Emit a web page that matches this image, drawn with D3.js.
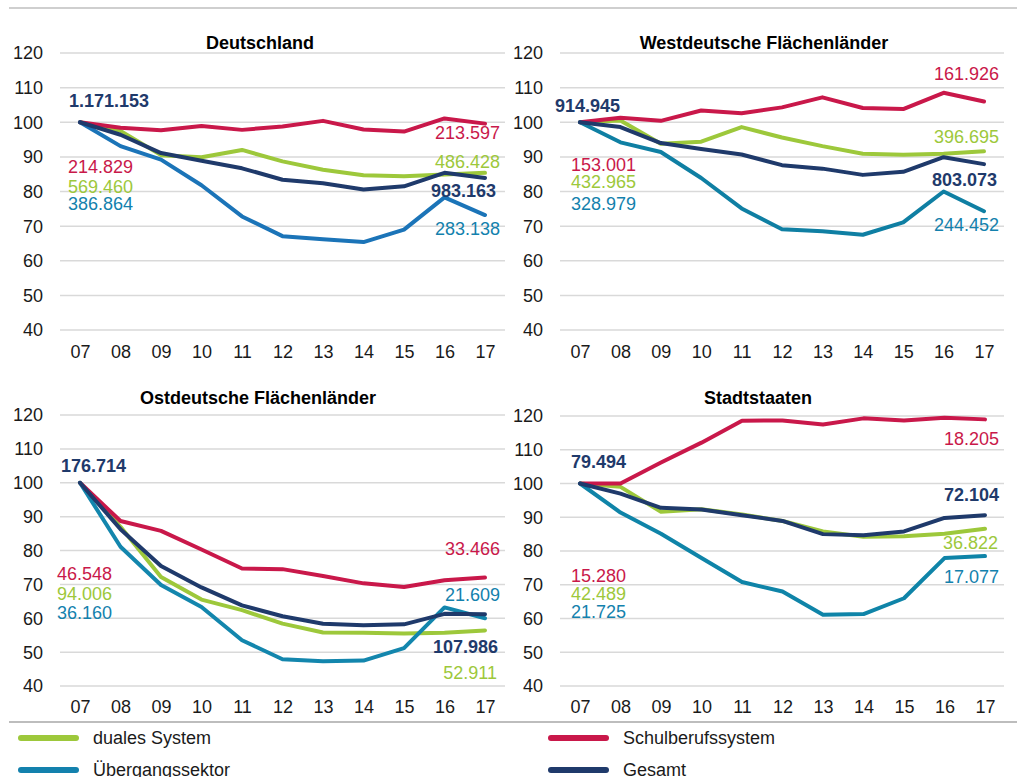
<!DOCTYPE html>
<html><head><meta charset="utf-8">
<script src="https://cdn.jsdelivr.net/npm/d3@7"></script>
<style>
html,body{margin:0;padding:0;background:#fff;}
text{font-family:Arial,"Liberation Sans",sans-serif;}
</style></head>
<body><svg id="c" width="1017" height="777"></svg>
<script>
// ---------- data ----------
const years = ["07","08","09","10","11","12","13","14","15","16","17"];
const seriesNames = ["duales System","Schulberufssystem","Übergangssektor","Gesamt"];
const yTicks = [40,50,60,70,80,90,100,110,120];
const panelTitles = ["Deutschland","Westdeutsche Flächenländer","Ostdeutsche Flächenländer","Stadtstaaten"];

// Deutschland
const deDual   = [100,97.5,90.5,89.9,92.0,88.7,86.3,84.7,84.4,84.9,85.4];
const deSchul  = [100,98.4,97.7,98.9,97.8,98.8,100.4,97.9,97.3,101.1,99.6];
const deUeber  = [100,93.1,89.2,81.8,72.8,67.1,66.2,65.4,69.0,78.3,73.2];
const deGesamt = [100,96.4,91.1,88.9,86.7,83.4,82.4,80.6,81.5,85.4,83.9];
const deStart  = ["569.460","214.829","386.864","1.171.153"];
const deEnd    = ["486.428","213.597","283.138","983.163"];

// Westdeutsche Flächenländer
const wDual   = [100,100.5,93.8,94.4,98.6,95.6,93.1,90.9,90.6,90.9,91.6];
const wSchul  = [100,101.3,100.4,103.4,102.6,104.3,107.2,104.1,103.8,108.5,106.0];
const wUeber  = [100,94.2,91.4,83.9,75.1,69.1,68.5,67.5,71.1,80.0,74.3];
const wGesamt = [100,98.6,94.0,92.3,90.7,87.6,86.6,84.8,85.7,89.9,87.9];
const wStart  = ["432.965","153.001","328.979","914.945"];
const wEnd    = ["396.695","161.926","244.452","803.073"];

// Ostdeutsche Flächenländer
const oDual   = [100,87.0,72.2,65.5,62.4,58.4,55.8,55.7,55.5,55.7,56.4];
const oSchul  = [100,88.7,85.8,80.3,74.7,74.5,72.5,70.3,69.2,71.2,72.0];
const oUeber  = [100,81.1,69.8,63.3,53.5,47.9,47.3,47.5,51.2,63.2,60.0];
const oGesamt = [100,86.3,75.4,69.1,63.8,60.6,58.4,57.9,58.2,61.3,61.2];
const oStart  = ["94.006","46.548","36.160","176.714"];
const oEnd    = ["52.911","33.466","21.609","107.986"];

// Stadtstaaten
const sDual   = [100,99.0,91.6,92.4,90.8,88.9,85.8,84.2,84.4,85.1,86.6];
const sSchul  = [100,100,106.2,112.1,118.6,118.7,117.5,119.3,118.7,119.5,119.0];
const sUeber  = [100,91.4,85.1,77.9,70.8,68.0,61.1,61.3,66.0,77.9,78.5];
const sGesamt = [100,97.0,92.8,92.3,90.6,88.9,85.0,84.7,85.8,89.8,90.6];
const sStart  = ["42.489","15.280","21.725","79.494"];
const sEnd    = ["36.822","18.205","17.077","72.104"];

// ---------- styles / layout ----------
const colors = ["#9dc83b","#c9184a","#1381ad","#1f3a6b"];
const fs = 18;

const panels = [
  {title:panelTitles[0], series:[deDual,deSchul,deUeber,deGesamt], start:deStart, end:deEnd,
   gx0:60, gx1:505, x0:80, x1:485, y0:330, y1:53, tickX:43, titleX:260, titleY:49, xLabY:358,
   blue:"#1b74b8",
   // label positions [x, y, anchor] for each series, start and end
   startPos:[[68,193],[68,173],[68,210],[69,107]],
   endPos:[[500,168],[500,139],[500,235],[496,197]]},
  {title:panelTitles[1], series:[wDual,wSchul,wUeber,wGesamt], start:wStart, end:wEnd,
   gx0:560, gx1:1004, x0:580, x1:984, y0:330, y1:53, tickX:543, titleX:764, titleY:49, xLabY:358,
   blue:"#0f7fa3",
   startPos:[[571,188],[571,171],[571,210],[555,112]],
   endPos:[[999,143],[999,80],[999,231],[997,186]]},
  {title:panelTitles[2], series:[oDual,oSchul,oUeber,oGesamt], start:oStart, end:oEnd,
   gx0:60, gx1:505, x0:80, x1:485, y0:686, y1:415, tickX:43, titleX:258, titleY:404, xLabY:713,
   blue:"#1386ad",
   startPos:[[57,600],[57,580],[57,619],[61,472]],
   endPos:[[497,679],[500,555],[500,601],[498,653]]},
  {title:panelTitles[3], series:[sDual,sSchul,sUeber,sGesamt], start:sStart, end:sEnd,
   gx0:560, gx1:1004, x0:580, x1:985, y0:686, y1:416, tickX:543, titleX:758, titleY:404, xLabY:713,
   blue:"#0f84a8",
   startPos:[[571,600],[571,582],[571,618],[571,468]],
   endPos:[[998,549],[999,445],[999,583],[999,501]]}
];

const svg = d3.select("#c");

// separators
svg.append("line").attr("x1",9).attr("x2",1017).attr("y1",8).attr("y2",8)
  .attr("stroke","#cfcfcf").attr("stroke-width",2);
svg.append("line").attr("x1",9).attr("x2",1017).attr("y1",722).attr("y2",722)
  .attr("stroke","#bdbdbd").attr("stroke-width",2);

panels.forEach(p => {
  const g = svg.append("g");
  const x = d3.scalePoint().domain(years).range([p.x0,p.x1]);
  const y = d3.scaleLinear().domain([40,120]).range([p.y0,p.y1]);

  // gridlines
  g.selectAll(".grid").data(yTicks).join("line")
    .attr("x1",p.gx0).attr("x2",p.gx1)
    .attr("y1",d=>y(d)).attr("y2",d=>y(d))
    .attr("stroke","#d9d9d9").attr("stroke-width",1.5);

  // y tick labels
  g.selectAll(".yl").data(yTicks).join("text")
    .attr("x",p.tickX).attr("y",d=>y(d)).attr("dy","0.36em")
    .attr("text-anchor","end").attr("font-size",fs).attr("fill","#1a1a1a")
    .text(d=>d);

  // x labels via axis
  const ax = g.append("g").attr("transform",`translate(0,${p.xLabY})`)
    .call(d3.axisBottom(x).tickSize(0).tickPadding(0));
  ax.select(".domain").remove();
  ax.selectAll("text").attr("font-size",fs).attr("fill","#1a1a1a")
    .attr("font-family","Arial, 'Liberation Sans', sans-serif").attr("dy",0).attr("y",0);

  // title
  g.append("text").attr("x",p.titleX).attr("y",p.titleY).attr("text-anchor","middle")
    .attr("font-size",fs).attr("font-weight","bold").attr("fill","#000").text(p.title);

  // lines (draw order: green, red, blue, navy)
  const line = d3.line().x((d,i)=>x(years[i])).y(d=>y(d));
  const order = [0,1,2,3];
  order.forEach(si => {
    const col = si===2 ? p.blue : colors[si];
    g.append("path").datum(p.series[si]).attr("d",line)
      .attr("fill","none").attr("stroke",col).attr("stroke-width",4)
      .attr("stroke-linejoin","round").attr("stroke-linecap","round");
  });

  // labels
  [0,1,2,3].forEach(si => {
    const bold = si===3;
    const sp = p.startPos[si], ep = p.endPos[si];
    g.append("text").attr("x",sp[0]).attr("y",sp[1]).attr("text-anchor","start")
      .attr("font-size",fs).attr("font-weight",bold?"bold":"normal")
      .attr("fill",colors[si]).text(p.start[si]);
    g.append("text").attr("x",ep[0]).attr("y",ep[1]).attr("text-anchor","end")
      .attr("font-size",fs).attr("font-weight",bold?"bold":"normal")
      .attr("fill",colors[si]).text(p.end[si]);
  });
});

// legend
const legPos = [[18,738],[548,738],[18,770],[548,770]];
seriesNames.forEach((n,i) => {
  const [lx,ly] = legPos[i];
  svg.append("line").attr("x1",lx+3).attr("x2",lx+58).attr("y1",ly).attr("y2",ly)
    .attr("stroke",colors[i]).attr("stroke-width",6).attr("stroke-linecap","round");
  svg.append("text").attr("x",lx+75).attr("y",ly).attr("dy","0.36em")
    .attr("font-size",fs).attr("fill","#1a1a1a").text(n);
});
</script></body></html>
